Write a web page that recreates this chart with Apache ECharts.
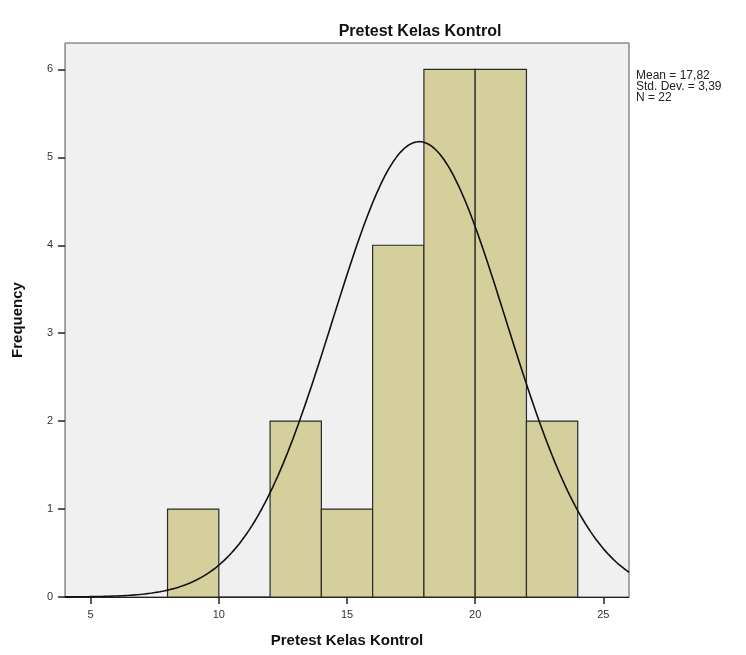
<!DOCTYPE html>
<html>
<head>
<meta charset="utf-8">
<script src="https://cdn.jsdelivr.net/npm/echarts@6/dist/echarts.min.js"></script>
<style>html,body{margin:0;padding:0;background:#fff}#c{width:746px;height:655px}</style>
</head>
<body>
<div id="c"></div>
<script>
// Histogram bins (lower edge) and frequencies
const binStarts = [8, 10, 12, 14, 16, 18, 20, 22];
const binWidth = 2;
const frequencies = [1, 0, 2, 1, 4, 6, 6, 2];
// Summary statistics shown in the legend
const meanVal = 17.82;
const stdDev = 3.39;
const nCount = 22;
const xTicks = [5, 10, 15, 20, 25];
const yTicks = [0, 1, 2, 3, 4, 5, 6];
const legendLines = ['Mean = 17,82', 'Std. Dev. = 3,39', 'N = 22'];

// Normal curve defined by the stated mean/sd/N
const curve = [];
for (let x = 4; x <= 26.0001; x += 0.1) {
  const z = (x - meanVal) / stdDev;
  const y = nCount * binWidth / (stdDev * Math.sqrt(2 * Math.PI)) * Math.exp(-0.5 * z * z);
  curve.push([x, y]);
}

const barData = binStarts.map((s, i) => [s, s + binWidth, frequencies[i]]);

const chart = echarts.init(document.getElementById('c'));
chart.setOption({
  animation: false,
  backgroundColor: '#ffffff',
  title: {
    text: 'Pretest Kelas Kontrol',
    left: 415, top: 19, textAlign: 'center',
    textStyle: {fontFamily: 'Liberation Sans, Arial', fontSize: 16, fontWeight: 'bold', color: '#111'}
  },
  graphic: [{
    type: 'text', left: 636, top: 70,
    style: {text: legendLines.join('\n'), font: '12px "Liberation Sans", Arial', fill: '#222', lineHeight: 11}
  }],
  grid: {left: 65, right: 117, top: 43, bottom: 58, show: true, backgroundColor: '#f0f0f0', borderColor: '#555', borderWidth: 1},
  xAxis: {
    type: 'value', min: 4, max: 26,
    name: 'Pretest Kelas Kontrol', nameLocation: 'middle', nameGap: 36,
    nameTextStyle: {fontFamily: 'Liberation Sans, Arial', fontSize: 15, fontWeight: 'bold', color: '#111'},
    axisLine: {lineStyle: {color: '#222', width: 1}},
    axisTick: {show: true, length: 7, lineStyle: {color: '#222', width: 1.5}, customValues: xTicks},
    axisLabel: {fontFamily: 'Liberation Sans, Arial', fontSize: 11, color: '#333', margin: 12, customValues: xTicks},
    splitLine: {show: false}
  },
  yAxis: {
    type: 'value', min: 0, max: 6.3,
    name: 'Frequency', nameLocation: 'middle', nameGap: 40,
    nameTextStyle: {fontFamily: 'Liberation Sans, Arial', fontSize: 15, fontWeight: 'bold', color: '#111'},
    axisLine: {show: true, lineStyle: {color: '#999'}},
    axisTick: {show: true, length: 7, lineStyle: {color: '#222', width: 1.5}, customValues: yTicks},
    axisLabel: {fontFamily: 'Liberation Sans, Arial', fontSize: 11, color: '#333', margin: 12, customValues: yTicks},
    splitLine: {show: false}
  },
  series: [{
    type: 'custom',
    data: barData,
    encode: {x: [0, 1], y: 2},
    renderItem: function (params, api) {
      const p0 = api.coord([api.value(0), 0]);
      const p1 = api.coord([api.value(1), api.value(2)]);
      return {
        type: 'rect',
        shape: {x: p0[0], y: p1[1], width: p1[0] - p0[0], height: p0[1] - p1[1]},
        style: {fill: '#d4cf9b', stroke: '#2a2a2a', lineWidth: 1.2}
      };
    },
    z: 2
  }, {
    type: 'line', data: curve, showSymbol: false, smooth: false,
    lineStyle: {color: '#111', width: 1.6}, z: 3
  }]
});
</script>
</body>
</html>
